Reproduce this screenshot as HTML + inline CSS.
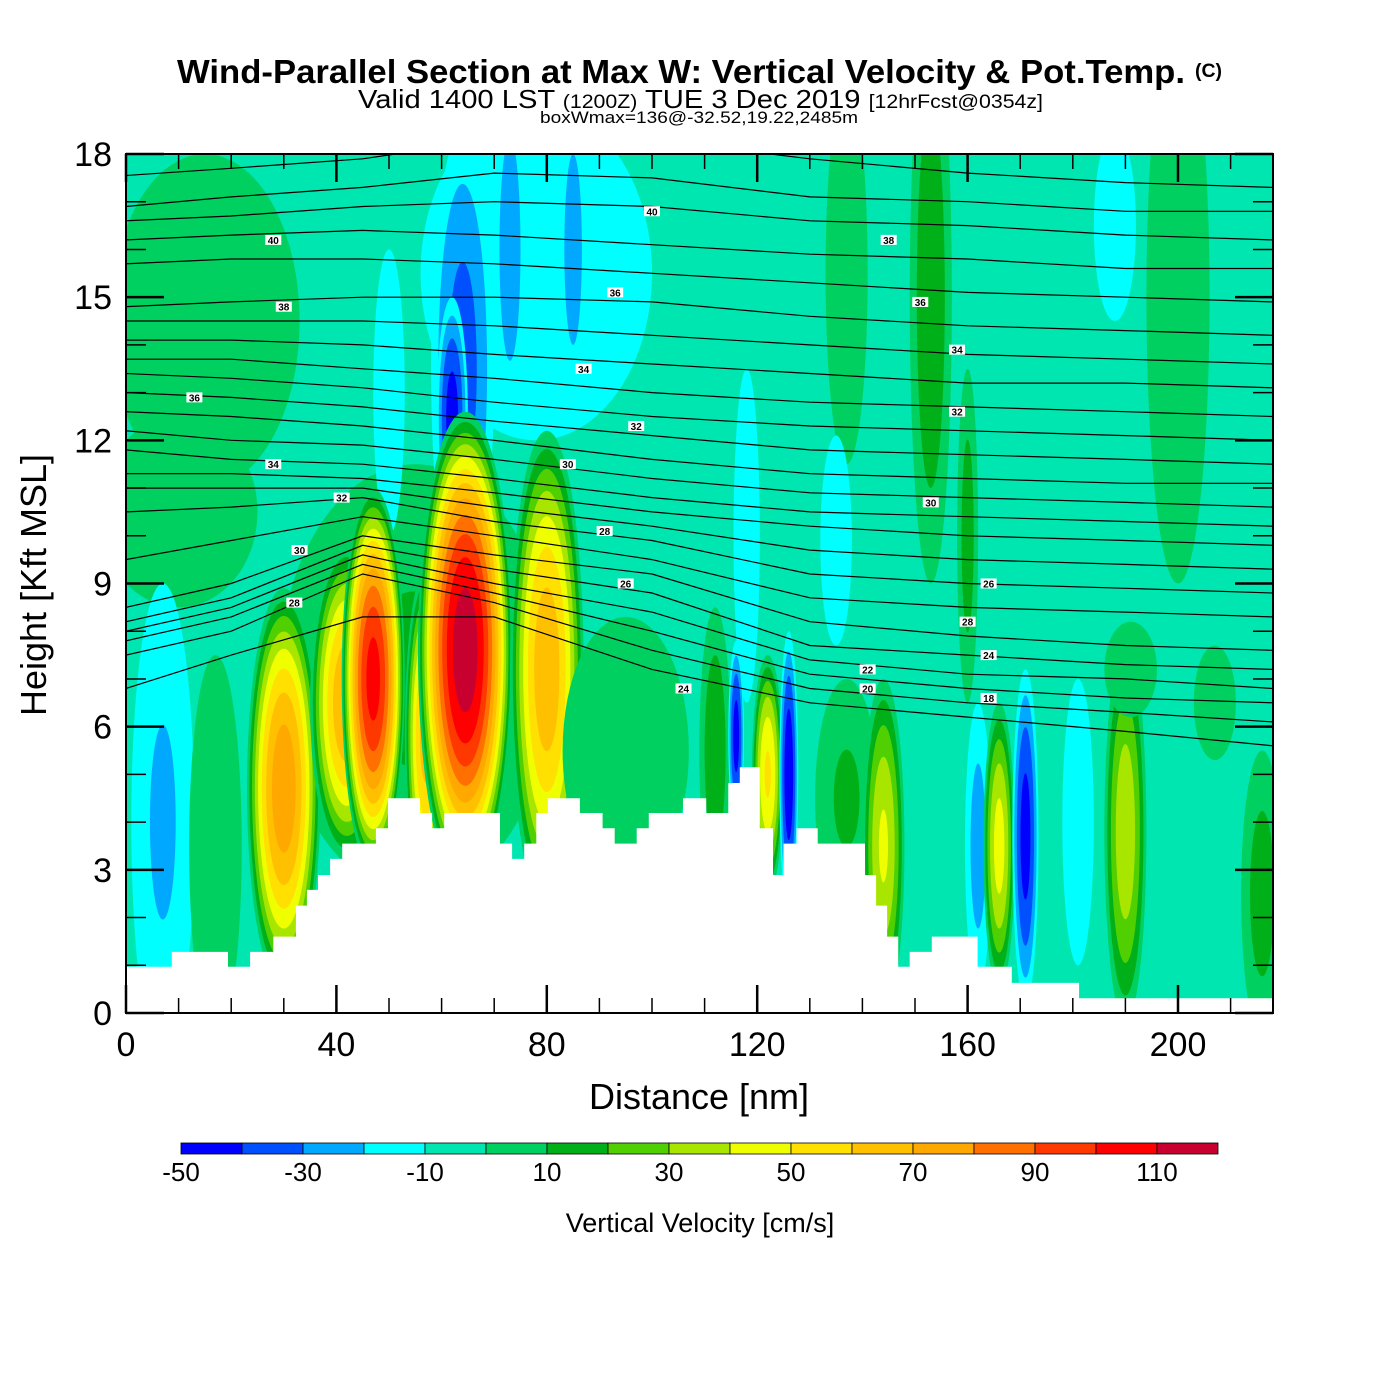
<!DOCTYPE html>
<html><head><meta charset="utf-8"><style>
html,body{margin:0;padding:0;background:#fff;}
svg{display:block;font-family:"Liberation Sans",sans-serif;}
</style></head><body>
<svg id="chart" width="1400" height="1400" viewBox="0 0 1400 1400" xmlns="http://www.w3.org/2000/svg">
<g>
<text x="177" y="83" font-size="33" font-weight="bold" textLength="1008" lengthAdjust="spacingAndGlyphs">Wind-Parallel Section at Max W: Vertical Velocity &amp; Pot.Temp.</text>
<text x="1195" y="77" font-size="19" font-weight="bold" textLength="27" lengthAdjust="spacingAndGlyphs">(C)</text>
<text x="358" y="108" font-size="26" textLength="685" lengthAdjust="spacingAndGlyphs">Valid 1400 LST <tspan font-size="19">(1200Z)</tspan> TUE 3 Dec 2019 <tspan font-size="19">[12hrFcst@0354z]</tspan></text>
<text x="540" y="123" font-size="17" textLength="318" lengthAdjust="spacingAndGlyphs">boxWmax=136@-32.52,19.22,2485m</text>
</g>
<defs><clipPath id="plotclip"><rect x="126" y="154" width="1147" height="859"/></clipPath></defs>
<g id="plot" clip-path="url(#plotclip)"></g>
<g id="axes"></g>
<g id="cbar"></g>
</svg>
<script>
// ---- data ----
const levelColors = ["#0000ff","#0050ff","#00a8ff","#00ffff","#00e6b0","#00d060","#00b018","#50d000","#a8e600","#f0ff00","#ffe000","#ffc000","#ffa800","#ff7000","#ff3800","#ff0000","#c80030"];
const levelTicks = [-50,-30,-10,10,30,50,70,90,110];
const xTicks = [0,40,80,120,160,200];
const yTicks = [0,3,6,9,12,15,18];
// vertical velocity cells: centre x (nm), centre z (kft), half-width (nm), half-height (kft), peak (cm/s)
const cellX    = [15, 10, 55, 78, 64, 62, 73, 85, 50, 153, 160, 200, 188, 137, 118, 135, 7, 17, 30, 42, 47, 57, 64.5, 80, 95, 112, 116, 122, 126, 137, 144, 162, 166, 171, 181, 190, 191, 207, 216];
const cellZ    = [14.5,10.5,7, 15.5,13.5,12.5,16, 16, 13, 15, 10, 15, 16.5,15.5,10, 9.9,4, 3.5,4.7,6.5,7, 5.8,7.6, 7.2,5.5,5.5,5.8,5, 5, 4.5,3.5,3.5,3.5,3.7,4, 3.8,7.2,6.5,2.5];
const cellHW   = [18, 15, 26, 22, 6, 3, 3, 2.5,3, 4, 2, 6, 4, 4, 2.5,3, 6, 5, 7, 7, 6, 4, 9, 7, 12, 3, 1.5,3, 1.8,6, 4, 2.5,3, 2.5,3, 4, 5, 4, 4];
const cellHH   = [3.5,2, 4.5,3.5,5, 2.5,3.5,3, 3, 6, 3.5,6, 2, 4, 3.5,2.2,5, 4, 4.2,3.3,4, 3.5,5, 5, 2.8,3, 2, 2.5,3, 2.5,3.5,3, 3, 3.5,3, 4, 1, 1.2,3];
const cellPeak = [8, 8, 12, -15,-35,-45,-28,-28,-15,18, 15, 8, -12,8, -15,-15,-22,8, 78, 70, 105,65, 118,68, 8, 18, -45,52, -48,12, 42, -25,45, -45,-15,38, 8, 8, 15];
// terrain steps: start x (nm) and height (kft)
const terrX = [0,8.7,19.4,23.6,28,32.3,34.4,36.5,38.8,41.1,47.5,49.8,55.9,58.2,60.5,71.1,73.4,75.7,78,80.2,86.3,90.6,92.9,97.1,99.4,105.9,110.3,114.5,116.7,120.5,123,125,127.5,131.5,140.5,142.6,144.7,146.8,149,153.2,161.9,168.4,181.2,187.8];
const terrZ = [0.97,1.28,0.97,1.28,1.6,2.25,2.58,2.89,3.23,3.55,3.87,4.5,4.19,3.87,4.19,3.55,3.23,3.55,4.19,4.5,4.19,3.87,3.55,3.87,4.19,4.5,4.19,4.82,5.15,3.87,2.89,3.55,3.87,3.55,2.89,2.25,1.6,0.97,1.28,1.6,0.97,0.63,0.31,0.31];
// potential temperature isentropes: heights (kft) at fixed distances
const thetaX = [0,20,45,70,100,130,160,190,218];
const thetaZ = [
[17.55,17.7,17.9,18.3,18.3,17.9,17.6,17.4,17.3],
[16.9,17.1,17.3,17.6,17.5,17.1,17.0,16.8,16.8],
[16.6,16.7,16.9,17.0,16.9,16.6,16.5,16.3,16.2],
[16.2,16.3,16.4,16.3,16.1,15.9,15.8,15.6,15.6],
[15.7,15.8,15.8,15.7,15.5,15.3,15.1,15.0,14.9],
[14.8,14.9,15.0,15.0,14.9,14.6,14.4,14.3,14.2],
[14.5,14.5,14.5,14.4,14.2,14.0,13.8,13.7,13.6],
[14.1,14.1,14.0,13.8,13.6,13.4,13.2,13.2,13.1],
[13.7,13.7,13.5,13.3,13.0,12.8,12.7,12.6,12.5],
[13.4,13.3,13.1,12.8,12.5,12.3,12.2,12.1,12.0],
[13.0,12.9,12.7,12.4,12.1,11.8,11.7,11.6,11.5],
[12.6,12.5,12.3,12.0,11.6,11.3,11.2,11.1,11.1],
[12.2,12.0,11.9,11.6,11.2,10.9,10.8,10.7,10.6],
[11.8,11.6,11.5,11.2,10.8,10.5,10.4,10.3,10.2],
[11.3,11.3,11.2,10.9,10.5,10.2,10.0,9.9,9.8],
[11.0,11.0,11.0,10.6,10.2,9.7,9.5,9.4,9.3],
[10.5,10.6,10.8,10.3,9.9,9.2,9.0,8.9,8.8],
[9.5,9.9,10.4,10.0,9.5,8.7,8.5,8.4,8.3],
[8.5,9.0,10.0,9.6,9.2,8.2,7.9,7.7,7.6],
[8.2,8.7,9.8,9.3,8.8,7.7,7.5,7.3,7.2],
[8.0,8.5,9.6,9.0,8.4,7.4,7.1,7.0,6.8],
[7.8,8.3,9.4,8.8,8.0,7.1,6.8,6.6,6.5],
[7.5,8.0,9.2,8.6,7.6,6.8,6.5,6.3,6.1],
[6.8,7.5,8.3,8.3,7.2,6.5,6.2,5.9,5.6]];
const labelText = ["40","38","36","34","32","30","28","40","38","36","34","32","30","28","26","36","34","32","30","26","28","24","22","20","18","24"];
const labelX    = [28,30,13,28,41,33,32,100,145,93,87,97,84,91,95,151,158,158,153,164,160,164,141,141,164,106];
const labelZ    = [16.2,14.8,12.9,11.5,10.8,9.7,8.6,16.8,16.2,15.1,13.5,12.3,11.5,10.1,9.0,14.9,13.9,12.6,10.7,9.0,8.2,7.5,7.2,6.8,6.6,6.8];

// ---- scales ----
const X0=126,X1=1273,Y0=1013,Y1=154;
const sx = v => X0 + v*(1052/200);
const sy = v => Y0 - v*(Y0-Y1)/18;
const NS="http://www.w3.org/2000/svg";
function mk(tag, attrs, parent){const e=document.createElementNS(NS,tag);for(const k in attrs)e.setAttribute(k,attrs[k]);parent.appendChild(e);return e;}
const plot=document.getElementById('plot');
const axes=document.getElementById('axes');
const cbar=document.getElementById('cbar');

const bg=mk('rect',{x:X0,y:Y1,width:X1-X0,height:Y0-Y1,fill:levelColors[4]},plot);



function colorFor(lo){return levelColors[Math.max(0,Math.min(16,Math.round((lo+50)/10)))];}
for(let i=0;i<cellX.length;i++){
  const g=mk('g',{},plot);
  
  
  const p=cellPeak[i];
  const rx=cellHW[i]*1052/200, ry=cellHH[i]*(Y0-Y1)/18;
  const cx=sx(cellX[i]), cy=sy(cellZ[i]);
  if(p>0){
    for(let t=0;t<p;t+=10){
      const s=Math.sqrt(1-t/p);
      const e=mk('ellipse',{cx:cx,cy:cy,rx:rx*s,ry:ry*s,fill:colorFor(t)},g);
      
      
    }
  } else {
    for(let t=-10;t>p;t-=10){
      const s=Math.sqrt(1-(t+10)/(p+10 || -1e-6));
      const e=mk('ellipse',{cx:cx,cy:cy,rx:rx*Math.max(s,0.05),ry:ry*Math.max(s,0.05),fill:colorFor(t-10)},g);
      
      
    }
  }
}

for(let i=0;i<thetaZ.length;i++){
  const pts=thetaX.map((x,j)=>sx(x).toFixed(1)+','+sy(thetaZ[i][j]).toFixed(1)).join(' ');
  const pl=mk('polyline',{points:pts,fill:'none',stroke:'#000','stroke-width':1.2},plot);
  
  
}

let d='M'+sx(0)+','+Y0;
for(let i=0;i<terrX.length;i++){
  const xe = i+1<terrX.length? terrX[i+1] : 220;
  d+=' L'+sx(terrX[i]).toFixed(1)+','+sy(terrZ[i]).toFixed(1)+' L'+sx(xe).toFixed(1)+','+sy(terrZ[i]).toFixed(1);
}
d+=' L'+sx(220)+','+Y0+' Z';
const ter=mk('path',{d:d,fill:'#fff',stroke:'none'},plot);



for(let i=0;i<labelText.length;i++){
  const g=mk('g',{},plot);
  
  
  mk('rect',{x:sx(labelX[i])-8,y:sy(labelZ[i])-5,width:16,height:10,fill:'#fff'},g);
  const t=mk('text',{x:sx(labelX[i]),y:sy(labelZ[i])+4,'font-size':10,'text-anchor':'middle','font-weight':'bold'},g);
  t.textContent=labelText[i];
}

const fr=mk('rect',{x:X0,y:Y1,width:X1-X0,height:Y0-Y1,fill:'none',stroke:'#000','stroke-width':2},axes);


for(let v=0;v<=218;v+=10){
  const L=(v%40===0)?28:15;
  mk('line',{x1:sx(v),y1:Y0,x2:sx(v),y2:Y0-L,stroke:'#000','stroke-width':v%40===0?2.5:1.5},axes);
  mk('line',{x1:sx(v),y1:Y1,x2:sx(v),y2:Y1+L,stroke:'#000','stroke-width':v%40===0?2.5:1.5},axes);
}
for(let v=0;v<=18;v+=1){
  const L=(v%3===0)?38:20;
  mk('line',{x1:X0,y1:sy(v),x2:X0+L,y2:sy(v),stroke:'#000','stroke-width':v%3===0?2.5:1.5},axes);
  mk('line',{x1:X1,y1:sy(v),x2:X1-L,y2:sy(v),stroke:'#000','stroke-width':v%3===0?2.5:1.5},axes);
}
xTicks.forEach(v=>{
  const t=mk('text',{x:sx(v),y:1056,'font-size':34,'text-anchor':'middle'},axes);
  
  
  t.textContent=v;
});
yTicks.forEach(v=>{
  const t=mk('text',{x:112,y:sy(v)+12,'font-size':34,'text-anchor':'end'},axes);
  
  
  t.textContent=v;
});
const xt=mk('text',{x:699,y:1109,'font-size':36,'text-anchor':'middle'},axes);


xt.textContent='Distance [nm]';
const yt=mk('text',{x:0,y:0,'font-size':36,'text-anchor':'middle',transform:'translate(46,585) rotate(-90)'},axes);


yt.textContent='Height [Kft MSL]';

const CB0=181, CBW=61;
levelColors.forEach((c,i)=>{
  const r=mk('rect',{x:CB0+i*CBW,y:1143,width:CBW,height:11,fill:c,stroke:'#000','stroke-width':0.8},cbar);
  
  
});
levelTicks.forEach(v=>{
  const t=mk('text',{x:CB0+(v+50)/10*CBW,y:1181,'font-size':26,'text-anchor':'middle'},cbar);
  
  
  t.textContent=v;
});
const ct=mk('text',{x:700,y:1232,'font-size':27,'text-anchor':'middle'},cbar);


ct.textContent='Vertical Velocity [cm/s]';
</script>
</body></html>
